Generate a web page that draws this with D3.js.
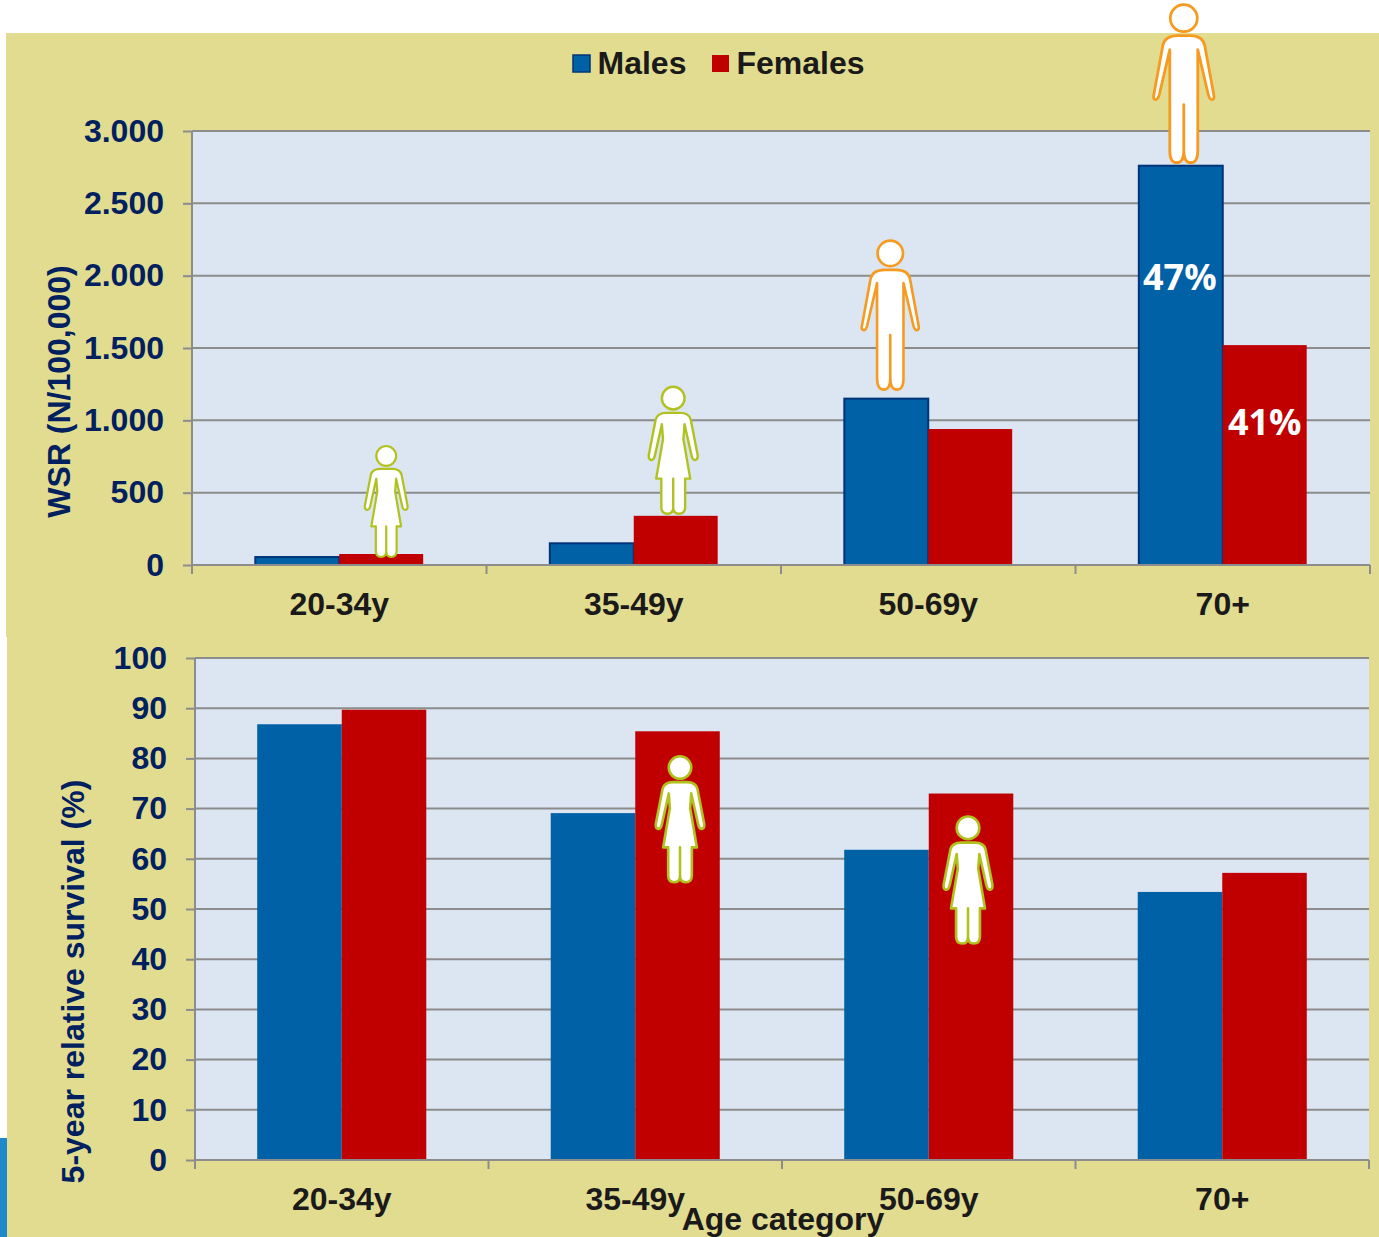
<!DOCTYPE html>
<html><head><meta charset="utf-8">
<script src="https://cdn.jsdelivr.net/npm/d3@7"></script>
<style>html,body{margin:0;padding:0;background:#fff;overflow:hidden}svg{display:block}
text{font-family:"Liberation Sans",Arial,sans-serif;font-weight:700}</style></head>
<body><svg id="c" width="1379" height="1237"></svg>
<script>
const categories = ["20-34y","35-49y","50-69y","70+"];
const seriesNames = ["Males","Females"];
const malesWSR = [55,150,1150,2760];
const femalesWSR = [76,340,940,1520];
const malesSurvival = [86.8,69.1,61.8,53.4];
const femalesSurvival = [89.7,85.4,73.0,57.2];
const wsrTicks = [0,500,1000,1500,2000,2500,3000];
const survivalTicks = [0,10,20,30,40,50,60,70,80,90,100];
const pctLabels = [{cat:"70+",series:"Males",text:"47%",value:2000},{cat:"70+",series:"Females",text:"41%",value:1000}];

const COL = {bg:"#E2DC90",plot:"#DCE6F2",grid:"#8C8C8C",male:"#0061A7",female:"#C00000",navy:"#002060",ink:"#1A1A1A",man:"#F79A20",woman:"#B1C21F"};
const svg = d3.select("#c");
const de = d3.formatLocale({decimal:",",thousands:".",grouping:[3],currency:["",""]}).format(",");

svg.append("rect").attr("x",0).attr("y",1138).attr("width",8).attr("height",99).attr("fill","#2189CB");
svg.append("path").attr("d","M6,33H1379V1237H7V637H6Z").attr("fill",COL.bg);

function panel(o){
  const g = svg.append("g");
  const x = d3.scaleBand().domain(categories).range([o.left,o.right]).paddingInner(o.gap).paddingOuter(o.gap/2);
  const sub = d3.scaleBand().domain(seriesNames).range([0,x.bandwidth()]);
  const y = d3.scaleLinear().domain(o.domain).range([o.bottom,o.top]);
  g.append("rect").attr("x",o.left).attr("y",o.top).attr("width",o.right-o.left).attr("height",o.bottom-o.top).attr("fill",COL.plot);
  g.append("g").selectAll("line").data(o.ticks).join("line")
    .attr("x1",o.left).attr("x2",o.right).attr("y1",d=>y(d)).attr("y2",d=>y(d))
    .attr("stroke",COL.grid).attr("stroke-width",2);
  const rows = categories.map((c,i)=>({c,vals:[["Males",o.males[i]],["Females",o.females[i]]]}));
  const grp = g.append("g").selectAll("g").data(rows).join("g").attr("transform",d=>`translate(${x(d.c)},0)`);
  grp.selectAll("rect").data(d=>d.vals).join("rect")
    .attr("x",d=>sub(d[0])).attr("width",sub.bandwidth())
    .attr("y",d=>y(d[1])).attr("height",d=>o.bottom-y(d[1]))
    .attr("fill",d=>d[0]==="Males"?COL.male:COL.female)
    .attr("stroke",d=>d[0]==="Males"&&o.outline?"#003478":"none")
    .attr("stroke-width",2);
  const ya = g.append("g").attr("transform",`translate(${o.left},0)`)
    .call(d3.axisLeft(y).tickValues(o.ticks).tickFormat(o.fmt).tickSize(9).tickPadding(19));
  ya.select(".domain").attr("d",`M0,${o.top}V${o.bottom+9}`).attr("stroke",COL.grid).attr("stroke-width",2);
  ya.selectAll(".tick line").attr("stroke",COL.grid).attr("stroke-width",2);
  ya.selectAll("text").attr("fill",COL.navy).style("font-size","32px");
  const xa = g.append("g").attr("transform",`translate(0,${o.bottom})`)
    .call(d3.axisBottom(x).tickSize(0).tickPadding(27));
  xa.select(".domain").attr("d",`M${o.left},0H${o.right}`).attr("stroke",COL.grid).attr("stroke-width",2);
  xa.selectAll("text").attr("fill",COL.ink).style("font-size","32px");
  const edges = d3.range(categories.length+1).map(i=>o.left+i*x.step());
  xa.selectAll(".edge").data(edges).join("line").attr("class","edge")
    .attr("x1",d=>d).attr("x2",d=>d).attr("y1",0).attr("y2",9)
    .attr("stroke",COL.grid).attr("stroke-width",2);
  g.append("text").attr("transform",`translate(${o.titleX},${(o.titleMid)}) rotate(-90)`)
    .attr("text-anchor","middle").attr("fill",COL.navy).style("font-size",o.titleSize+"px").text(o.title);
  return {x,sub,y,center:(c,s)=>x(c)+sub(s)+sub.bandwidth()/2};
}

const top_ = panel({left:192,right:1370,top:131,bottom:565,domain:[0,3000],ticks:wsrTicks,fmt:de,gap:0.43,
  males:malesWSR,females:femalesWSR,outline:true,title:"WSR (N/100,000)",titleX:70,titleMid:391.5,titleSize:32});
const bot = panel({left:195,right:1369,top:658,bottom:1160,domain:[0,100],ticks:survivalTicks,fmt:d3.format("d"),gap:0.424,
  males:malesSurvival,females:femalesSurvival,outline:false,title:"5-year relative survival (%)",titleX:84,titleMid:981.5,titleSize:32});

const manPath = "M-14,45L-14,146Q-14,158 -7,158Q0,158 0,146L0,100L0,146Q0,158 7,158Q14,158 14,146L14,45L24.5,90Q26,95 28,95Q31,95 30,90L21,41Q19,31 6,31L-6,31Q-19,31 -21,41L-30,90Q-31,95 -28,95Q-26,95 -24.5,90Z";
const womanPath = "M-10,33L-9,46L-15,81L-10.5,81L-10.5,106Q-10.5,112 -5,112Q0,112 0,106L0,81L0,106Q0,112 5,112Q10.5,112 10.5,106L10.5,81L15,81L9,46L10,33L16,60Q17,65 19.5,64.5Q22,64 21.5,60L15.5,29Q14,23 6,23L-6,23Q-14,23 -15.5,29L-21.5,60Q-22,64 -19.5,64.5Q-17,65 -16,60Z";
function figure(kind,cx,feet,h,sw){
  const base = kind==="man"?158:112, k=h/base, r=kind==="man"?13.5:10;
  const col = kind==="man"?COL.man:COL.woman;
  const g = svg.append("g").attr("transform",`translate(${cx},${feet-h}) scale(${k})`);
  g.append("circle").attr("cx",0).attr("cy",r).attr("r",r).attr("fill","#fff").attr("stroke",col).attr("stroke-width",sw).style("vector-effect","non-scaling-stroke");
  g.append("path").attr("d",kind==="man"?manPath:womanPath).attr("fill","#fff").attr("stroke",col).attr("stroke-width",sw).attr("stroke-linejoin","round").style("vector-effect","non-scaling-stroke");
}
figure("woman",top_.center("20-34y","Females")+5,top_.y(femalesWSR[0])+3,111,2.2);
figure("woman",top_.center("35-49y","Females")-2.5,top_.y(femalesWSR[1])-2,127,2.4);
figure("man",top_.center("50-69y","Males")+4,top_.y(malesWSR[2])-9,149,2.6);
figure("man",top_.center("70+","Males")+3,top_.y(malesWSR[3])-3,158,2.8);
figure("woman",bot.center("35-49y","Females")+2.5,bot.y(femalesSurvival[1])+151,126,2.6);
figure("woman",bot.center("50-69y","Females")-3,bot.y(femalesSurvival[2])+150,127,2.6);

svg.append("g").selectAll("text").data(pctLabels).join("text")
  .attr("x",d=>top_.center(d.cat,d.series)-(d.series==="Males"?1:0))
  .attr("y",d=>top_.y(d.value)+(d.series==="Males"?14:15))
  .attr("text-anchor","middle").attr("fill","#fff")
  .style("font-family","'Open Sans'").style("font-size","36px").text(d=>d.text);

const leg = svg.append("g").selectAll("g").data(seriesNames).join("g")
  .attr("transform",(d,i)=>`translate(${i?712:573},0)`);
leg.append("rect").attr("y",55).attr("width",17).attr("height",17)
  .attr("fill",d=>d==="Males"?COL.male:COL.female).attr("stroke",d=>d==="Males"?"#003478":"none").attr("stroke-width",1.5);
leg.append("text").attr("x",24.5).attr("y",74).attr("fill",COL.ink).style("font-size","32px").text(d=>d);

svg.append("text").attr("x",783).attr("y",1230).attr("text-anchor","middle").attr("fill",COL.ink).style("font-size","32px").text("Age category");
</script></body></html>
